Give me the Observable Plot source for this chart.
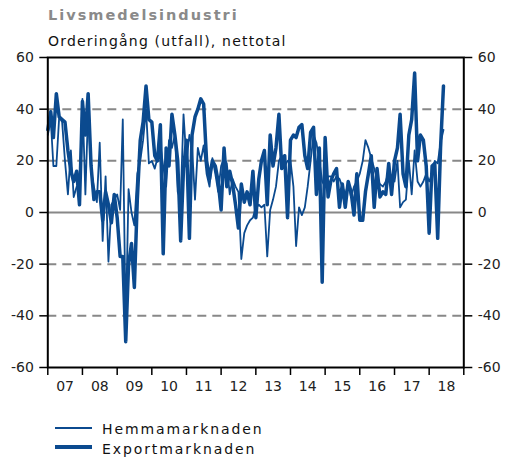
<!DOCTYPE html>
<html><head><meta charset="utf-8">
<script src="https://cdn.jsdelivr.net/npm/d3@7"></script>
<script src="https://cdn.jsdelivr.net/npm/@observablehq/plot@0.6"></script>
<style>
body{margin:0;background:#fff;font-family:"DejaVu Sans",Verdana,sans-serif;}
#wrap{position:relative;width:505px;height:460px;overflow:hidden;background:#fff;}
.title{position:absolute;left:48px;top:8px;font-size:14.5px;font-weight:bold;color:#8a8a8a;letter-spacing:2px;line-height:1;white-space:nowrap;}
.subtitle{position:absolute;left:48px;top:34px;font-size:14px;letter-spacing:1.2px;line-height:1;color:#111;white-space:nowrap;z-index:2;}
#chart{position:absolute;left:0;top:48px;z-index:1;}
.lg{position:absolute;left:55px;height:20px;white-space:nowrap;}
.sw{position:absolute;left:0;width:37px;height:0;}
.lt{position:absolute;left:47px;top:0;font-size:14px;letter-spacing:1.9px;line-height:1;color:#111;}
</style>
</head><body>
<div id="wrap">
  <div class="title">Livsmedelsindustri</div>
  <div class="subtitle">Orderingång (utfall), nettotal</div>
  <div id="chart"></div>
  <div class="lg" style="top:421.5px;"><div class="sw" style="top:5.5px;border-top:2px solid #0b4a8f;"></div><div class="lt">Hemmamarknaden</div></div>
  <div class="lg" style="top:441.5px;"><div class="sw" style="top:3.5px;border-top:4px solid #0b4a8f;"></div><div class="lt">Exportmarknaden</div></div>
</div>
<script>
// Monthly net balances, Jan 2007 – Jun 2018
const startYear = 2007;
const hemmamarknaden = [
  30, 36, 18, 18, 37, 35, 20, 7, 24, 6, 10, 8,
  44, 7, 40, 16, 10, 4, 27, -11, 14, -19, 3, 5,
  7, 1, 36, -44, 9, 0, -5, 15, 20, 28, 40, 19,
  20, 17, 21, 26, 18, 10, 28, 25, 30, 8, 5, 38,
  20, 30, 25, 5, 25, 20, 26, 15, 10, 21, 15, 8,
  18, 21, 19, 7, 13, 10, 8, -18, -8, -5, -3, -2,
  2, 3, 2, 3, -17, 1, 5, 10, 20, 22, 18, 20,
  20, 10, -13, 2, -1, 2, 10, 20, 30, 27, 20, 12,
  10, 14, 14, 12, 14, 13, 10, 7, 11, 6, 10, 12,
  15, 20, 28, 25, 21, 17, 13, 11, 10, 12, 16, 14,
  12, 20, 2, 4, 5, 20, 7, 24, 12, 10, 12, 15,
  12, 15, 20, 19, 27, 32
];
const exportmarknaden = [
  32, 39, 29, 46, 37, 36, 35, 24, 16, 12, 16, 3,
  43, 30, 46, 18, 5, 8, 8, -3, 8, 3, -4, 7,
  -2, -17, -17, -50, -20, -12, -29, 5, 28, 35, 49, 36,
  35, 22, 20, 34, -16, 25, 18, 38, 30, 20, -11, 17,
  28, -10, 30, 37, 40, 44, 42, 20, 13, 20, 18, 12,
  1, 25, 10, 16, 11, 3, -6, 11, 4, 8, 3, 16,
  -2, 13, 20, 24, 3, 30, 18, 25, 38, 17, 22, -2,
  28, 30, 29, 33, 34, 22, 17, 31, 33, 7, 25, -27,
  29, 6, 12, 15, 17, 2, 11, 2, 12, 8, -1, 15,
  -3, -3, 8, 15, 22, 2, 17, 6, 8, 7, 19, 7,
  20, 25, 38, 15, 10, 30, 36, 54, 20, 30, 28, 18,
  -8, 18, 19, -10, 25, 49
];
const yearLabels = ["07","08","09","10","11","12","13","14","15","16","17","18"];
const yTicks = [-60, -40, -20, 0, 20, 40, 60];
const dashedGrid = [-40, -20, 20, 40];

const blue = "#0b4a8f";
const toRows = arr => arr.map((v, i) => ({date: new Date(Date.UTC(startYear, i, 1)), value: v}));
const hemmaRows = toRows(hemmamarknaden);
const exportRows = toRows(exportmarknaden);
const yearBounds = d3.range(yearLabels.length + 1).map(k => new Date(Date.UTC(startYear + k, 0, 1)));
const yearMids = yearLabels.map((_, k) => new Date(Date.UTC(startYear + k, 6, 2)));

const chart = Plot.plot({
  width: 505, height: 352,
  marginLeft: 47.3, marginRight: 41.7, marginTop: 9, marginBottom: 33,
  style: {fontFamily: '"DejaVu Sans", Verdana, sans-serif', fontSize: "14px", color: "#222", background: "transparent", overflow: "visible"},
  x: {type: "utc", domain: [yearBounds[0], yearBounds[yearBounds.length - 1]]},
  y: {domain: [-60, 60]},
  marks: [
    Plot.ruleY(dashedGrid, {stroke: "#888", strokeWidth: 2, strokeDasharray: "9,6"}),
    Plot.ruleY([0], {stroke: "#888", strokeWidth: 2}),
    Plot.line(hemmaRows, {x: "date", y: "value", stroke: blue, strokeWidth: 1.8}),
    Plot.line(exportRows, {x: "date", y: "value", stroke: blue, strokeWidth: 3.5}),
    Plot.frame({stroke: "#000", strokeWidth: 2}),
    Plot.axisY(yTicks, {anchor: "left", tickSize: 8, tickPadding: 6, strokeWidth: 1.5, stroke: "#000", label: null, tickFormat: d => `${d}`}),
    Plot.axisY(yTicks, {anchor: "right", tickSize: 8, tickPadding: 6, strokeWidth: 1.5, stroke: "#000", label: null, tickFormat: d => `${d}`}),
    Plot.axisX(yearBounds, {anchor: "bottom", tickSize: 8, strokeWidth: 1.5, stroke: "#000", label: null, tickFormat: () => ""}),
    Plot.axisX(yearMids, {anchor: "bottom", tickSize: 0, tickPadding: 14, label: null, tickFormat: d => yearLabels[d.getUTCFullYear() - startYear]})
  ]
});
document.getElementById("chart").appendChild(chart);
</script>
</body></html>
